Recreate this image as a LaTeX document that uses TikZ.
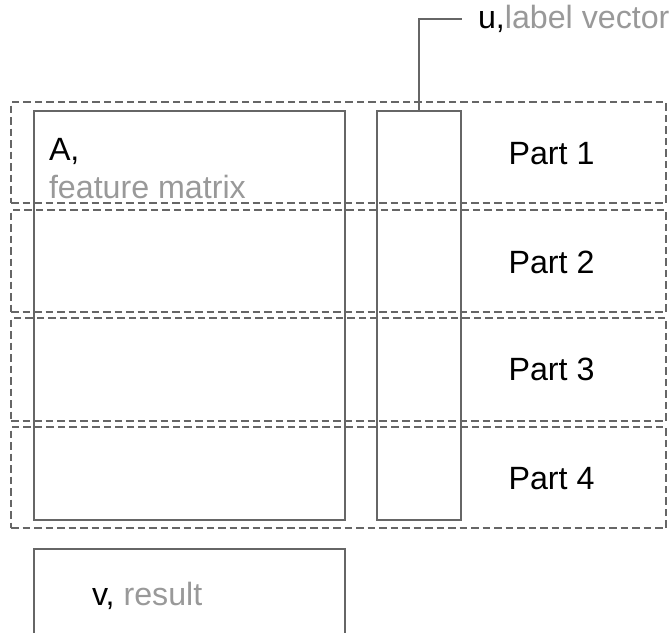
\documentclass[tikz,border=0pt]{standalone}
\usepackage{fontspec}
\setmainfont{Liberation Sans}
\begin{document}
\begin{tikzpicture}[x=1pt,y=-1pt,
  every node/.style={inner sep=0pt, outer sep=0pt},
  solidbox/.style={draw=linegray, line width=1.8pt, rectangle, anchor=north west},
  partbox/.style={draw=linegray, line width=1.6pt, dash pattern=on 7.5pt off 4pt, rectangle, anchor=north west, minimum width=655pt},
  txt/.style={font=\fontsize{32.2}{36}\selectfont, anchor=base west, text=black},
  parttxt/.style={font=\fontsize{32.2}{36}\selectfont, anchor=base, text=black},
  connector/.style={draw=linegray, line width=1.8pt}]
\definecolor{linegray}{HTML}{666666}
\definecolor{softgray}{HTML}{999999}
\useasboundingbox (0,0) rectangle (671,632);
\clip (0,0) rectangle (671,632);

% feature matrix, label vector and result boxes
\node[solidbox, minimum width=311pt, minimum height=409pt] (A) at (34,111) {};
\node[solidbox, minimum width=84pt, minimum height=409pt] (u) at (377,111) {};
\node[solidbox, minimum width=311pt, minimum height=130pt] (v) at (34,549) {};

% dashed row partitions
\node[partbox, minimum height=101pt] (p1) at (11,102) {};
\node[partbox, minimum height=102pt] (p2) at (11,210) {};
\node[partbox, minimum height=103pt] (p3) at (11,318) {};
\node[partbox, minimum height=101pt] (p4) at (11,427) {};

% texts
\node[txt] (Alab) at (49,160) {A,};
\node[txt, text=softgray] (Afeat) at (49,198) {feature matrix};
\node[txt] (ulab) at (478,28) {u,\textcolor{softgray}{label vector}};
\node[txt] (vlab) at (92,605) {v, \textcolor{softgray}{result}};
\node[parttxt] (t1) at (551.5,164) {Part 1};
\node[parttxt] (t2) at (551.5,273) {Part 2};
\node[parttxt] (t3) at (551.5,380) {Part 3};
\node[parttxt] (t4) at (551.5,489) {Part 4};

% leader from the label vector box to its caption
\coordinate (utip) at (462,19);
\draw[connector] (u.north) |- (utip);
\end{tikzpicture}
\end{document}
